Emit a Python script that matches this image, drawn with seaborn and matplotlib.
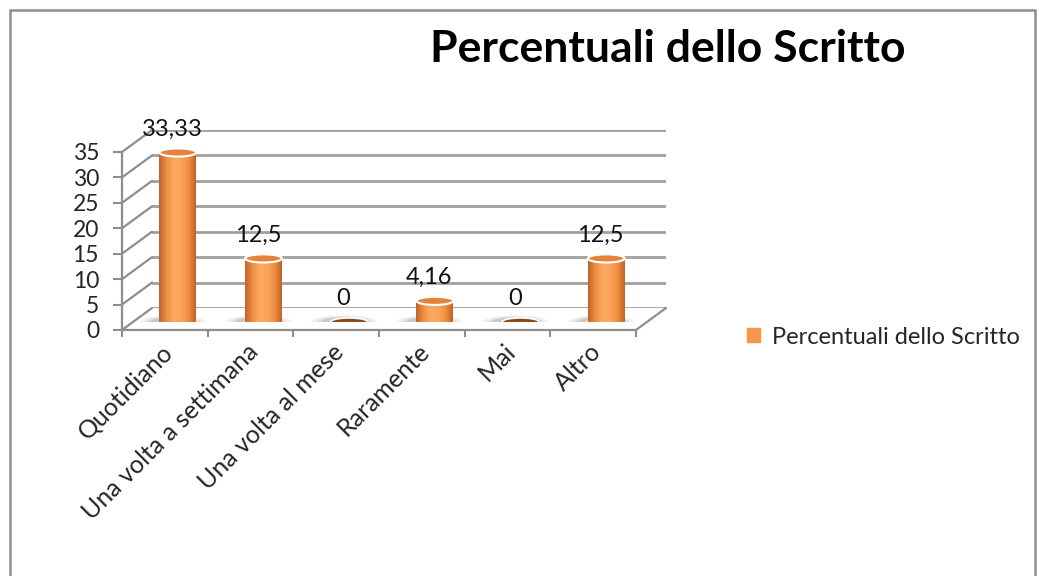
import numpy as np
import pandas as pd
import matplotlib
matplotlib.use("Agg")
import matplotlib.pyplot as plt
import matplotlib.transforms as mtransforms
from matplotlib.patches import Ellipse, Rectangle, Patch
from matplotlib.lines import Line2D
from matplotlib.colors import LinearSegmentedColormap
import seaborn as sns

# data
categorie = ["Quotidiano", "Una volta a settimana", "Una volta al mese",
             "Raramente", "Mai", "Altro"]
valori = [33.33, 12.5, 0, 4.16, 0, 12.5]
titolo = "Percentuali dello Scritto"
serie = "Percentuali dello Scritto"
yticks = [0, 5, 10, 15, 20, 25, 30, 35]

sns.set_style("white")
plt.rcParams["font.family"] = ["Lato", "DejaVu Sans"]

W, H = 1039, 576
fig = plt.figure(figsize=(W / 100, H / 100), dpi=100)


def frac(x0, y0, x1, y1):
    # pixel box (top-down) -> figure fraction
    return [x0 / W, 1 - y1 / H, (x1 - x0) / W, (y1 - y0) / H]


grigio = "#8e8e8e"
arancio = "#F79646"

# back wall with gridlines
ax_back = fig.add_axes(frac(152, 130, 666, 308), zorder=0)
ax_back.set_ylim(0, 35)
ax_back.set_xlim(0, 1)
ax_back.set_yticks(yticks)
ax_back.yaxis.grid(True, color="#a0a0a0", lw=2)
ax_back.tick_params(left=False, labelleft=False, bottom=False, labelbottom=False)
for s in ax_back.spines.values():
    s.set_visible(False)
ax_back.patch.set_alpha(0)

# front plane: axis lines, ticks and labels
ax = fig.add_axes(frac(122, 152, 636, 330), zorder=1)
ax.patch.set_alpha(0)
ax.set_xlim(-0.5, len(categorie) - 0.5)
ax.set_ylim(0, 35)
ax.set_yticks(yticks)
ax.set_yticklabels([str(t) for t in yticks], fontsize=16.5)
ax.set_xticks(range(len(categorie)))
ax.set_xticklabels(categorie, fontsize=18, rotation=45, ha="right",
                   rotation_mode="anchor")
ax.set_xticks(np.arange(-0.5, len(categorie)), minor=True)
ax.tick_params(axis="y", length=6.5, width=1.5, color=grigio, pad=10, left=True)
ax.tick_params(axis="x", which="major", length=0, pad=7)
ax.tick_params(axis="x", which="minor", length=5, width=1.5, color=grigio,
               bottom=True)
for lab in ax.get_xticklabels():
    lab.set_transform(lab.get_transform() +
                      mtransforms.ScaledTranslation(-0.04, 0, fig.dpi_scale_trans))
for k in ["top", "right"]:
    ax.spines[k].set_visible(False)
for k in ["left", "bottom"]:
    ax.spines[k].set_color(grigio)
    ax.spines[k].set_linewidth(1.6)


def link(pf, pb):
    a = ax.transData.transform(pf)
    b = ax_back.transData.transform(pb)
    a, b = fig.transFigure.inverted().transform([a, b])
    fig.add_artist(Line2D([a[0], b[0]], [a[1], b[1]], color=grigio, lw=1.6,
                          zorder=0.5))


for v in yticks:
    link((-0.5, v), (0, v))
link((len(categorie) - 0.5, 0), (1, 0))

# bars at mid depth
ax_bar = fig.add_axes(frac(135, 144, 649, 322), zorder=2)
ax_bar.patch.set_alpha(0)
df = pd.DataFrame({"categoria": categorie, "valore": valori})
sns.barplot(data=df, x="categoria", y="valore", ax=ax_bar, color=arancio,
            saturation=1, width=0.43)
ax_bar.set_xlim(-0.5, len(categorie) - 0.5)
ax_bar.set_ylim(0, 35)
ax_bar.axis("off")

cyl = LinearSegmentedColormap.from_list(
    "cyl", ["#c0652a", "#ef8f44", "#fca95f", "#fba45a", "#f09040", "#c06427"])
grad = np.linspace(0, 1, 64).reshape(1, -1)
ell_h = 1.6

for p, v in zip(ax_bar.patches, valori):
    x0, bw = p.get_x(), p.get_width()
    cx = x0 + bw / 2
    # soft shadow on the floor
    for k, a in [(1.8, 0.12), (1.5, 0.18), (1.25, 0.25)]:
        ax_bar.add_patch(Ellipse((cx - 0.06, 0), bw * k, ell_h * 0.9 * k,
                                 color="#8a8a8a", alpha=a, lw=0, zorder=1))
    if v == 0:
        ax_bar.add_patch(Ellipse((cx, 0), bw, ell_h, facecolor="#8a4a1c",
                                 edgecolor="white", lw=1.2, zorder=3))
        p.set_visible(False)
        continue
    ax_bar.add_patch(Ellipse((cx, 0), bw, ell_h, facecolor="#e0803a",
                             edgecolor="white", lw=1.2, zorder=2))
    p.set_alpha(0)
    im = ax_bar.imshow(grad, cmap=cyl, extent=[x0, x0 + bw, 0, v],
                       aspect="auto", zorder=2.5)
    clip = Rectangle((x0, 0), bw, v, transform=ax_bar.transData)
    im.set_clip_path(clip)
    ax_bar.add_patch(Ellipse((cx, v), bw, ell_h, facecolor="#e4843c",
                             edgecolor="white", lw=1.5, zorder=3))

ax_bar.set_xlim(-0.5, len(categorie) - 0.5)
ax_bar.set_ylim(0, 35)

for i, v in enumerate(valori):
    testo = f"{v:g}".replace(".", ",")
    ax_bar.annotate(testo, (i, v), xytext=(-4, 12), textcoords="offset points",
                    ha="center", va="baseline", fontsize=17, color="#111111",
                    zorder=5, annotation_clip=False)

# title and legend
fig.text(668 / W, 1 - 62 / H, titolo, ha="center", va="baseline",
         fontsize=32, fontweight="bold", color="black")
fig.legend(handles=[Patch(color=arancio, label=serie)], loc="center left",
           bbox_to_anchor=(726 / W, 1 - 337 / H), frameon=False, fontsize=17,
           handlelength=0.55, handleheight=0.55, handletextpad=0.5)

# chart frame
fig.add_artist(Rectangle((10 / W, -0.1), 1025 / W, 1.1 - 10 / H,
                         transform=fig.transFigure, fill=False,
                         edgecolor=grigio, lw=1.8))

fig.savefig("out.png", dpi=100)
